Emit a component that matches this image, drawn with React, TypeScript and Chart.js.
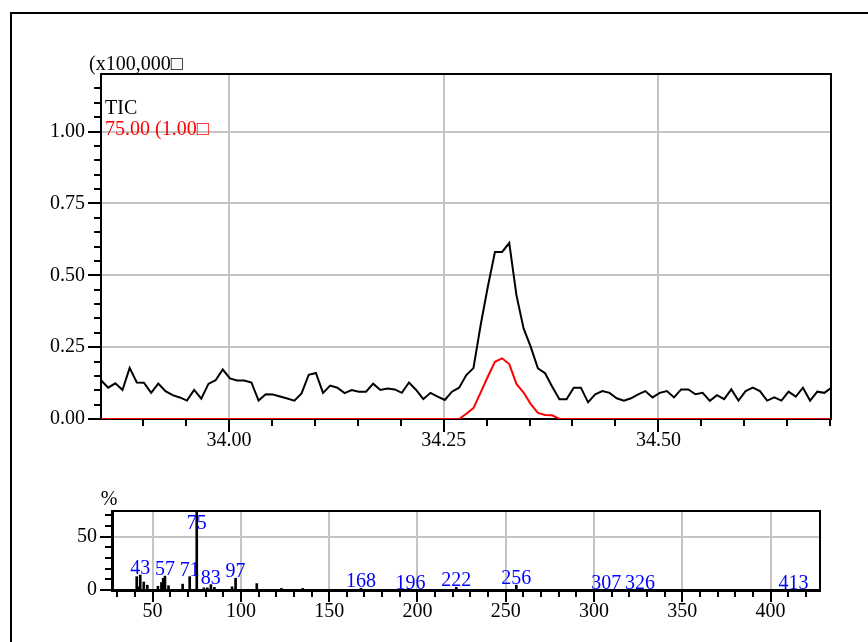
import React, { useEffect, useRef } from 'react';
import { Chart, registerables } from 'chart.js';

Chart.register(...registerables);

const FONT = "'Liberation Serif', 'Times New Roman', serif";

// ---- Chromatogram (x100,000) ----
const SCAN_START_MIN = 33.851;
const SCAN_INTERVAL_MIN = 0.00834;

const ticIntensity = [
  0.135, 0.109, 0.124, 0.101, 0.178, 0.127, 0.126, 0.091, 0.123, 0.097,
  0.083, 0.075, 0.064, 0.101, 0.071, 0.122, 0.135, 0.172, 0.141, 0.134,
  0.134, 0.127, 0.064, 0.086, 0.085, 0.078, 0.071, 0.064, 0.089, 0.154,
  0.160, 0.091, 0.116, 0.109, 0.090, 0.101, 0.095, 0.095, 0.123, 0.101,
  0.106, 0.103, 0.091, 0.127, 0.101, 0.069, 0.091, 0.078, 0.066, 0.095,
  0.109, 0.153, 0.177, 0.326, 0.459, 0.581, 0.581, 0.612, 0.431, 0.315,
  0.251, 0.176, 0.159, 0.112, 0.069, 0.069, 0.109, 0.109, 0.058, 0.086,
  0.097, 0.091, 0.072, 0.064, 0.072, 0.086, 0.097, 0.075, 0.091, 0.097,
  0.075, 0.103, 0.103, 0.086, 0.091, 0.063, 0.083, 0.069, 0.103, 0.064,
  0.097, 0.109, 0.097, 0.064, 0.075, 0.064, 0.095, 0.078, 0.109, 0.064,
  0.095, 0.091, 0.109,
];

const ion75Intensity = [
  0, 0, 0, 0, 0, 0, 0, 0, 0, 0,
  0, 0, 0, 0, 0, 0, 0, 0, 0, 0,
  0, 0, 0, 0, 0, 0, 0, 0, 0, 0,
  0, 0, 0, 0, 0, 0, 0, 0, 0, 0,
  0, 0, 0, 0, 0, 0, 0, 0, 0, 0,
  0, 0.018, 0.038, 0.092, 0.147, 0.199, 0.211, 0.191, 0.122, 0.092,
  0.052, 0.021, 0.014, 0.013, 0, 0, 0, 0, 0, 0,
  0, 0, 0, 0, 0, 0, 0, 0, 0, 0,
  0, 0, 0, 0, 0, 0, 0, 0, 0, 0,
  0, 0, 0, 0, 0, 0, 0, 0, 0, 0,
  0, 0, 0,
];

const topXTickLabels = ['34.00', '34.25', '34.50'];
const topYTickLabels = ['0.00', '0.25', '0.50', '0.75', '1.00'];
const TOP_X_MIN = 33.851;
const TOP_X_MAX = 34.701;
const TOP_Y_MAX = 1.2;

// ---- Mass spectrum ----
const specMz = [41, 42, 43, 45, 47, 53, 55, 56, 57, 59, 67, 71, 75, 79, 81, 83, 85, 95, 97, 109, 123, 135, 168, 196, 222, 256, 307, 326, 413];
const specPct = [12.5, 3, 14, 7.5, 4.5, 3.5, 7, 11, 13, 4, 5.5, 12.5, 100, 2, 2, 5, 2.5, 3, 11, 6, 1.5, 1.5, 1.5, 0.4, 2.5, 4.5, 0.4, 0.4, 0.4];
const specPeakLabels = ['43', '57', '71', '75', '83', '97', '168', '196', '222', '256', '307', '326', '413'];
const specXTickLabels = ['50', '100', '150', '200', '250', '300', '350', '400'];
const specYTickLabels = ['0', '50'];
const SPEC_X_MIN = 27;
const SPEC_X_MAX = 428;
const SPEC_Y_MAX = 74;

function makeTicks(start: number, end: number, step: number) {
  const n = Math.round((end - start) / step);
  const out: { value: number }[] = [];
  for (let i = 0; i <= n; i++) out.push({ value: +(start + i * step).toFixed(4) });
  return out;
}

function tickPlugin(isMajorX: (v: number) => boolean, isMajorY: (v: number) => boolean, longLen: number, shortLen: number, width: number) {
  return {
    id: 'customTicks',
    afterDraw(chart: any) {
      const { ctx, chartArea } = chart;
      const xs = chart.scales.x;
      const ys = chart.scales.y;
      ctx.save();
      ctx.strokeStyle = '#000';
      ctx.lineWidth = width;
      ctx.beginPath();
      xs.ticks.forEach((t: any) => {
        const px = Math.round(xs.getPixelForValue(t.value)) + 0.0;
        const len = isMajorX(t.value) ? longLen : shortLen;
        ctx.moveTo(px, chartArea.bottom);
        ctx.lineTo(px, chartArea.bottom + len);
      });
      ys.ticks.forEach((t: any) => {
        const py = Math.round(ys.getPixelForValue(t.value));
        const len = isMajorY(t.value) ? longLen : shortLen;
        ctx.moveTo(chartArea.left, py);
        ctx.lineTo(chartArea.left - len, py);
      });
      ctx.stroke();
      ctx.restore();
    },
  };
}

function framePlugin(width: number) {
  return {
    id: 'frame',
    afterDraw(chart: any) {
      const { ctx, chartArea } = chart;
      ctx.save();
      ctx.strokeStyle = '#000';
      ctx.lineWidth = width;
      ctx.beginPath();
      ctx.moveTo(chartArea.left, chartArea.top);
      ctx.lineTo(chartArea.right, chartArea.top);
      ctx.lineTo(chartArea.right, chartArea.bottom);
      ctx.stroke();
      ctx.restore();
    },
  };
}

const near = (v: number, step: number) => Math.abs(v / step - Math.round(v / step)) < 1e-6;

const GRID = '#c4c4c4';

function TopChart() {
  const ref = useRef<HTMLCanvasElement>(null);
  useEffect(() => {
    if (!ref.current) return;
    const isMajor = (v: number) => near(v, 0.25);
    const labelPlugin = {
      id: 'topLabels',
      afterDraw(chart: any) {
        const { ctx, chartArea } = chart;
        ctx.save();
        ctx.font = `20px ${FONT}`;
        ctx.textAlign = 'left';
        ctx.textBaseline = 'alphabetic';
        ctx.fillStyle = '#000';
        ctx.fillText('(x100,000\u25A1', chartArea.left - 12, chartArea.top - 4);
        ctx.fillText('TIC', chartArea.left + 4, chartArea.top + 40);
        ctx.fillStyle = '#ff0000';
        ctx.fillText('75.00 (1.00\u25A1', chartArea.left + 4, chartArea.top + 61);
        ctx.restore();
      },
    };
    const times = ticIntensity.map((_, i) => SCAN_START_MIN + i * SCAN_INTERVAL_MIN);
    const chart = new Chart(ref.current, {
      type: 'line',
      data: {
        datasets: [
          {
            label: '75.00',
            data: ion75Intensity.map((y, i) => ({ x: times[i], y })),
            borderColor: '#ff0000',
            borderWidth: 2,
            pointRadius: 0,
            tension: 0,
          },
          {
            label: 'TIC',
            data: ticIntensity.map((y, i) => ({ x: times[i], y })),
            borderColor: '#000000',
            borderWidth: 2,
            pointRadius: 0,
            tension: 0,
          },
        ],
      },
      options: {
        animation: false,
        responsive: false,
        events: [],
        layout: { padding: { top: 74, right: 37, left: 0, bottom: 0 } },
        plugins: { legend: { display: false }, tooltip: { enabled: false } },
        scales: {
          x: {
            type: 'linear',
            min: TOP_X_MIN,
            max: TOP_X_MAX,
            afterBuildTicks: (s: any) => { s.ticks = makeTicks(33.9, 34.7, 0.05).filter(t => t.value <= TOP_X_MAX); },
            afterFit: (s: any) => { s.height = 51; },
            grid: {
              color: (c: any) => (c.tick && isMajor(c.tick.value) ? GRID : 'rgba(0,0,0,0)'),
              lineWidth: 2,
              tickLength: 8,
              tickColor: 'rgba(0,0,0,0)',
            },
            border: { display: true, color: '#000', width: 2 },
            ticks: {
              autoSkip: false,
              maxRotation: 0,
              padding: 2,
              color: '#000',
              font: { family: FONT, size: 20 },
              callback: (v: any) => {
                const s = Number(v).toFixed(2);
                return topXTickLabels.includes(s) ? s : '';
              },
            },
          },
          y: {
            type: 'linear',
            min: 0,
            max: TOP_Y_MAX,
            afterBuildTicks: (s: any) => { s.ticks = makeTicks(0, 1.15, 0.05); },
            afterFit: (s: any) => { s.width = 101; },
            grid: {
              color: (c: any) => (c.tick && isMajor(c.tick.value) && c.tick.value > 0 ? GRID : 'rgba(0,0,0,0)'),
              lineWidth: 2,
              tickLength: 13,
              tickColor: 'rgba(0,0,0,0)',
            },
            border: { display: true, color: '#000', width: 2 },
            ticks: {
              autoSkip: false,
              padding: 3,
              color: '#000',
              font: { family: FONT, size: 20 },
              callback: (v: any) => {
                const s = Number(v).toFixed(2);
                return topYTickLabels.includes(s) ? s : '';
              },
            },
          },
        },
      },
      plugins: [tickPlugin(isMajor, isMajor, 13, 7, 2), framePlugin(2), labelPlugin],
    } as any);
    return () => chart.destroy();
  }, []);
  return <canvas ref={ref} width={868} height={470} style={{ position: 'absolute', left: 0, top: 0, width: 868, height: 470 }} />;
}

function SpectrumChart() {
  const ref = useRef<HTMLCanvasElement>(null);
  useEffect(() => {
    if (!ref.current) return;
    const isMajor = (v: number) => near(v, 50);
    const peakLabelPlugin = {
      id: 'peakLabels',
      afterDraw(chart: any) {
        const { ctx, chartArea } = chart;
        const xs = chart.scales.x;
        const ys = chart.scales.y;
        ctx.save();
        ctx.font = `20px ${FONT}`;
        ctx.textAlign = 'center';
        ctx.textBaseline = 'alphabetic';
        ctx.fillStyle = '#0000ff';
        specPeakLabels.forEach((lab) => {
          const mz = Number(lab);
          const idx = specMz.indexOf(mz);
          const pct = idx >= 0 ? specPct[idx] : 0;
          const x = xs.getPixelForValue(mz);
          const y = Math.max(ys.getPixelForValue(pct), chartArea.top + 19) - 1;
          ctx.fillText(lab, x, y);
        });
        ctx.fillStyle = '#000';
        ctx.fillText('%', chartArea.left - 3, chartArea.top - 6);
        ctx.restore();
      },
    };
    const chart = new Chart(ref.current, {
      type: 'bar',
      data: {
        datasets: [
          {
            data: specMz.map((x, i) => ({ x, y: specPct[i] })),
            backgroundColor: '#000',
            borderWidth: 0,
            barThickness: 2,
          },
        ],
      },
      options: {
        animation: false,
        responsive: false,
        events: [],
        layout: { padding: { top: 41, right: 48, left: 0, bottom: 0 } },
        plugins: { legend: { display: false }, tooltip: { enabled: false } },
        scales: {
          x: {
            type: 'linear',
            offset: false,
            min: SPEC_X_MIN,
            max: SPEC_X_MAX,
            afterBuildTicks: (s: any) => { s.ticks = makeTicks(30, 420, 10); },
            afterFit: (s: any) => { s.height = 52; },
            grid: {
              offset: false,
              color: (c: any) => (c.tick && isMajor(c.tick.value) ? GRID : 'rgba(0,0,0,0)'),
              lineWidth: 2,
              tickLength: 8,
              tickColor: 'rgba(0,0,0,0)',
            },
            border: { display: true, color: '#000', width: 3 },
            ticks: {
              autoSkip: false,
              maxRotation: 0,
              padding: 2,
              color: '#000',
              font: { family: FONT, size: 20 },
              callback: (v: any) => {
                const s = String(Math.round(Number(v)));
                return specXTickLabels.includes(s) ? s : '';
              },
            },
          },
          y: {
            type: 'linear',
            min: 0,
            max: SPEC_Y_MAX,
            afterBuildTicks: (s: any) => { s.ticks = makeTicks(0, 70, 10); },
            afterFit: (s: any) => { s.width = 112; },
            grid: {
              color: (c: any) => (c.tick && isMajor(c.tick.value) && c.tick.value > 0 ? GRID : 'rgba(0,0,0,0)'),
              lineWidth: 2,
              tickLength: 13,
              tickColor: 'rgba(0,0,0,0)',
            },
            border: { display: true, color: '#000', width: 3 },
            ticks: {
              autoSkip: false,
              padding: 2,
              color: '#000',
              font: { family: FONT, size: 20 },
              callback: (v: any) => {
                const s = String(Math.round(Number(v)));
                return specYTickLabels.includes(s) ? s : '';
              },
            },
          },
        },
      },
      plugins: [tickPlugin(isMajor, isMajor, 12, 7, 2), framePlugin(2), peakLabelPlugin],
    } as any);
    return () => chart.destroy();
  }, []);
  return <canvas ref={ref} width={868} height={172} style={{ position: 'absolute', left: 0, top: 470, width: 868, height: 172 }} />;
}

export default function App() {
  return (
    <div style={{ position: 'absolute', left: 0, top: 0, width: 868, height: 642, overflow: 'hidden', background: '#fff' }}>
      <div
        style={{
          position: 'absolute',
          left: 10,
          top: 12,
          width: 1000,
          height: 1000,
          borderLeft: '2px solid #000',
          borderTop: '2px solid #000',
        }}
      />
      <TopChart />
      <SpectrumChart />
    </div>
  );
}
